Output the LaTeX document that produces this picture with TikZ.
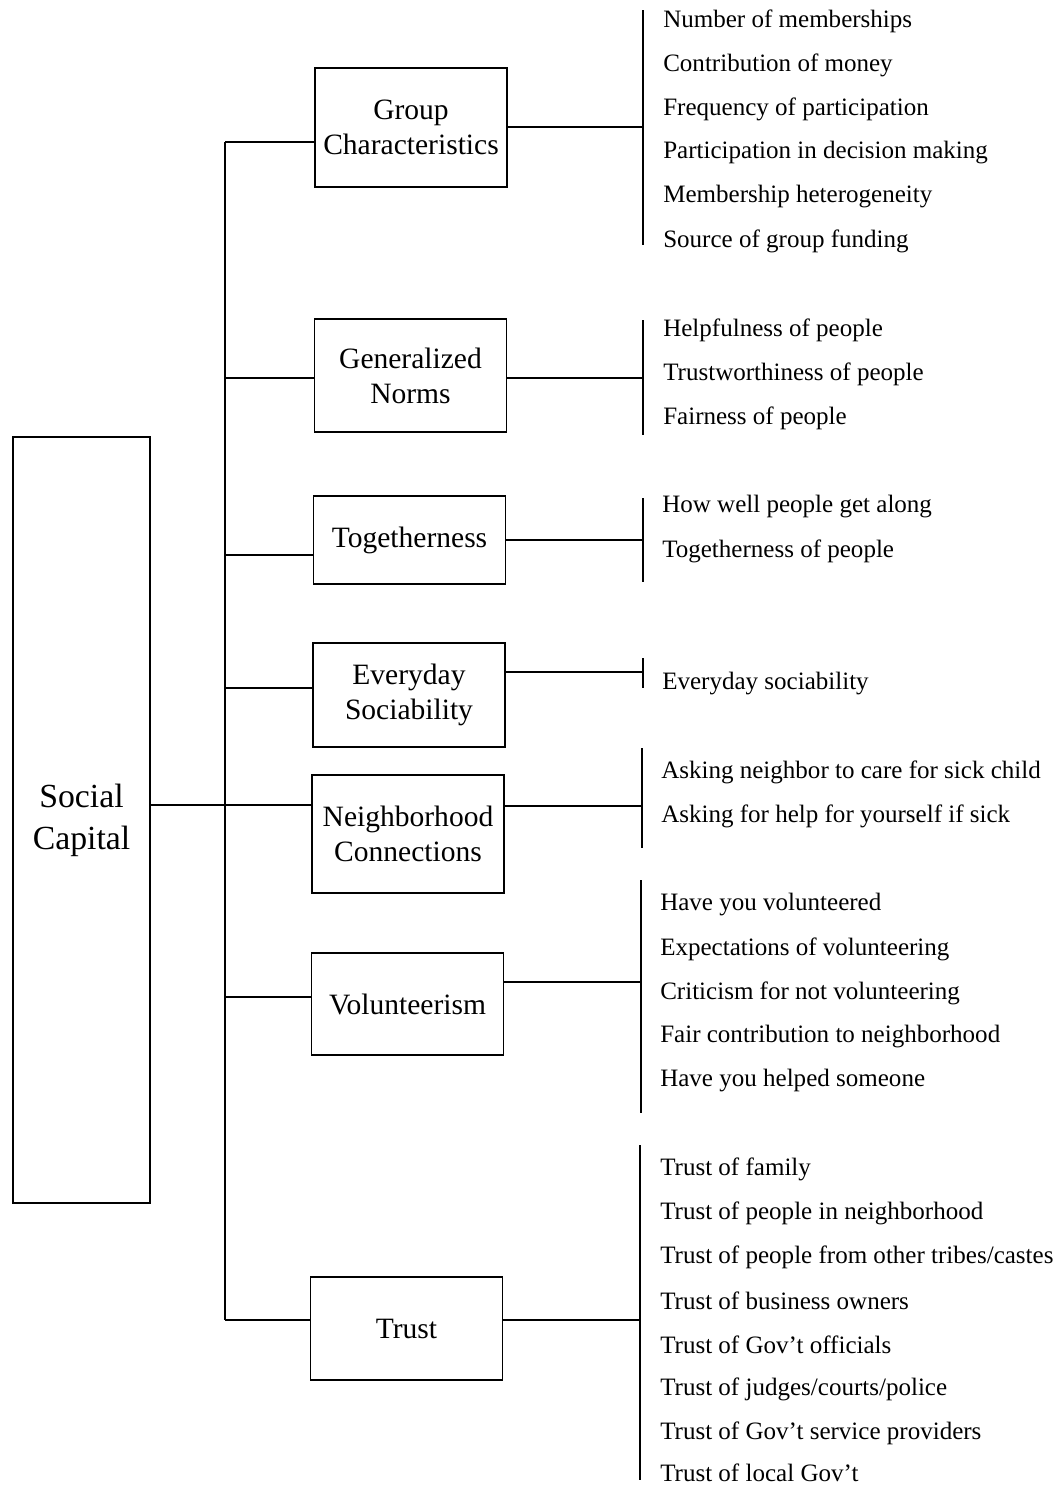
\documentclass[tikz,border=0pt]{standalone}
\usepackage{fontspec}
\setmainfont{Liberation Serif}
\usetikzlibrary{positioning}

\tikzset{
  catbox/.style={draw, line width=0.9pt, minimum width=4.8cm, align=center, inner sep=0pt,
    font={\fontsize{21}{25}\selectfont}},
  itemtext/.style={anchor=west, inner sep=0pt, font={\fontsize{17.8}{21}\selectfont}},
  link/.style={line width=0.9pt},
}

\begin{document}
\begin{tikzpicture}[x=0.025cm, y=-0.025cm]
  \useasboundingbox (0,0) rectangle (1063,1487);

  % main box
  \node[draw, line width=0.9pt, minimum width=3.425cm, minimum height=19.15cm, align=center,
    font={\fontsize{24}{30}\selectfont}] (sc) at (81.5,820) {Social\\Capital};

  % categories
  \node[catbox, minimum height=2.975cm] (gc) at (411,127.5) {Group\\Characteristics};
  \node[catbox, minimum height=2.825cm] (gn) at (410.5,375.5) {Generalized\\Norms};
  \node[catbox, minimum height=2.2cm] (tg) at (409.5,540) {Togetherness};
  \node[catbox, minimum height=2.6cm] (es) at (409,695) {Everyday\\Sociability};
  \node[catbox, minimum height=2.95cm] (nc) at (408,834) {Neighborhood\\Connections};
  \node[catbox, minimum height=2.55cm] (vo) at (407.5,1004) {Volunteerism};
  \node[catbox, minimum height=2.575cm] (tr) at (406.5,1328.5) {Trust};

  % spine
  \coordinate (s1) at (225,142);
  \coordinate (s2) at (225,378);
  \coordinate (s3) at (225,555);
  \coordinate (s4) at (225,688);
  \coordinate (s5) at (225,805);
  \coordinate (s6) at (225,997);
  \coordinate (s7) at (225,1320);
  \draw[link] (s1) -- (s7);
  \draw[link] (sc.east |- s5) -- (s5 -| nc.west);
  \draw[link] (s1) -- (s1 -| gc.west);
  \draw[link] (s2) -- (s2 -| gn.west);
  \draw[link] (s3) -- (s3 -| tg.west);
  \draw[link] (s4) -- (s4 -| es.west);
  \draw[link] (s6) -- (s6 -| vo.west);
  \draw[link] (s7) -- (s7 -| tr.west);

  % bars
  \coordinate (b1) at (643,127);
  \coordinate (b2) at (643,378);
  \coordinate (b3) at (643,540);
  \coordinate (b4) at (643,672);
  \coordinate (b5) at (642,806);
  \coordinate (b6) at (641,982);
  \coordinate (b7) at (640,1320);
  \draw[link] (gc.east |- b1) -- (b1);
  \draw[link] (gn.east |- b2) -- (b2);
  \draw[link] (tg.east |- b3) -- (b3);
  \draw[link] (es.east |- b4) -- (b4);
  \draw[link] (nc.east |- b5) -- (b5);
  \draw[link] (vo.east |- b6) -- (b6);
  \draw[link] (tr.east |- b7) -- (b7);
  \draw[link] (643,10) -- (643,245);
  \draw[link] (643,320) -- (643,435);
  \draw[link] (643,498) -- (643,582);
  \draw[link] (643,658) -- (643,688);
  \draw[link] (642,748) -- (642,848);
  \draw[link] (641,880) -- (641,1113);
  \draw[link] (640,1145) -- (640,1480);

  % items
  \foreach \t [count=\i] in {Number of memberships, Contribution of money, Frequency of participation,
      Participation in decision making, Membership heterogeneity, Source of group funding}
    \node[itemtext] (gc-\i) at (663,{21+44*(\i-1)}) {\t};
  \foreach \t [count=\i] in {Helpfulness of people, Trustworthiness of people, Fairness of people}
    \node[itemtext] (gn-\i) at (663,{330+44*(\i-1)}) {\t};
  \foreach \t [count=\i] in {How well people get along, Togetherness of people}
    \node[itemtext] (tg-\i) at (662,{507+44*(\i-1)}) {\t};
  \node[itemtext] (es-1) at (662,684) {Everyday sociability};
  \foreach \t [count=\i] in {Asking neighbor to care for sick child, Asking for help for yourself if sick}
    \node[itemtext] (nc-\i) at (661,{772+44*(\i-1)}) {\t};
  \foreach \t [count=\i] in {Have you volunteered, Expectations of volunteering, Criticism for not volunteering,
      Fair contribution to neighborhood, Have you helped someone}
    \node[itemtext] (vo-\i) at (660,{905+44*(\i-1)}) {\t};
  \foreach \t [count=\i] in {Trust of family, Trust of people in neighborhood, Trust of people from other tribes/castes,
      Trust of business owners, Trust of Gov't officials, Trust of judges/courts/police,
      Trust of Gov't service providers}
    \node[itemtext] (tr-\i) at (660,{1169+44*(\i-1)}) {\t};
  \node[itemtext] (tr-8) at (660,1473) {Trust of local Gov't};
\end{tikzpicture}
\end{document}
